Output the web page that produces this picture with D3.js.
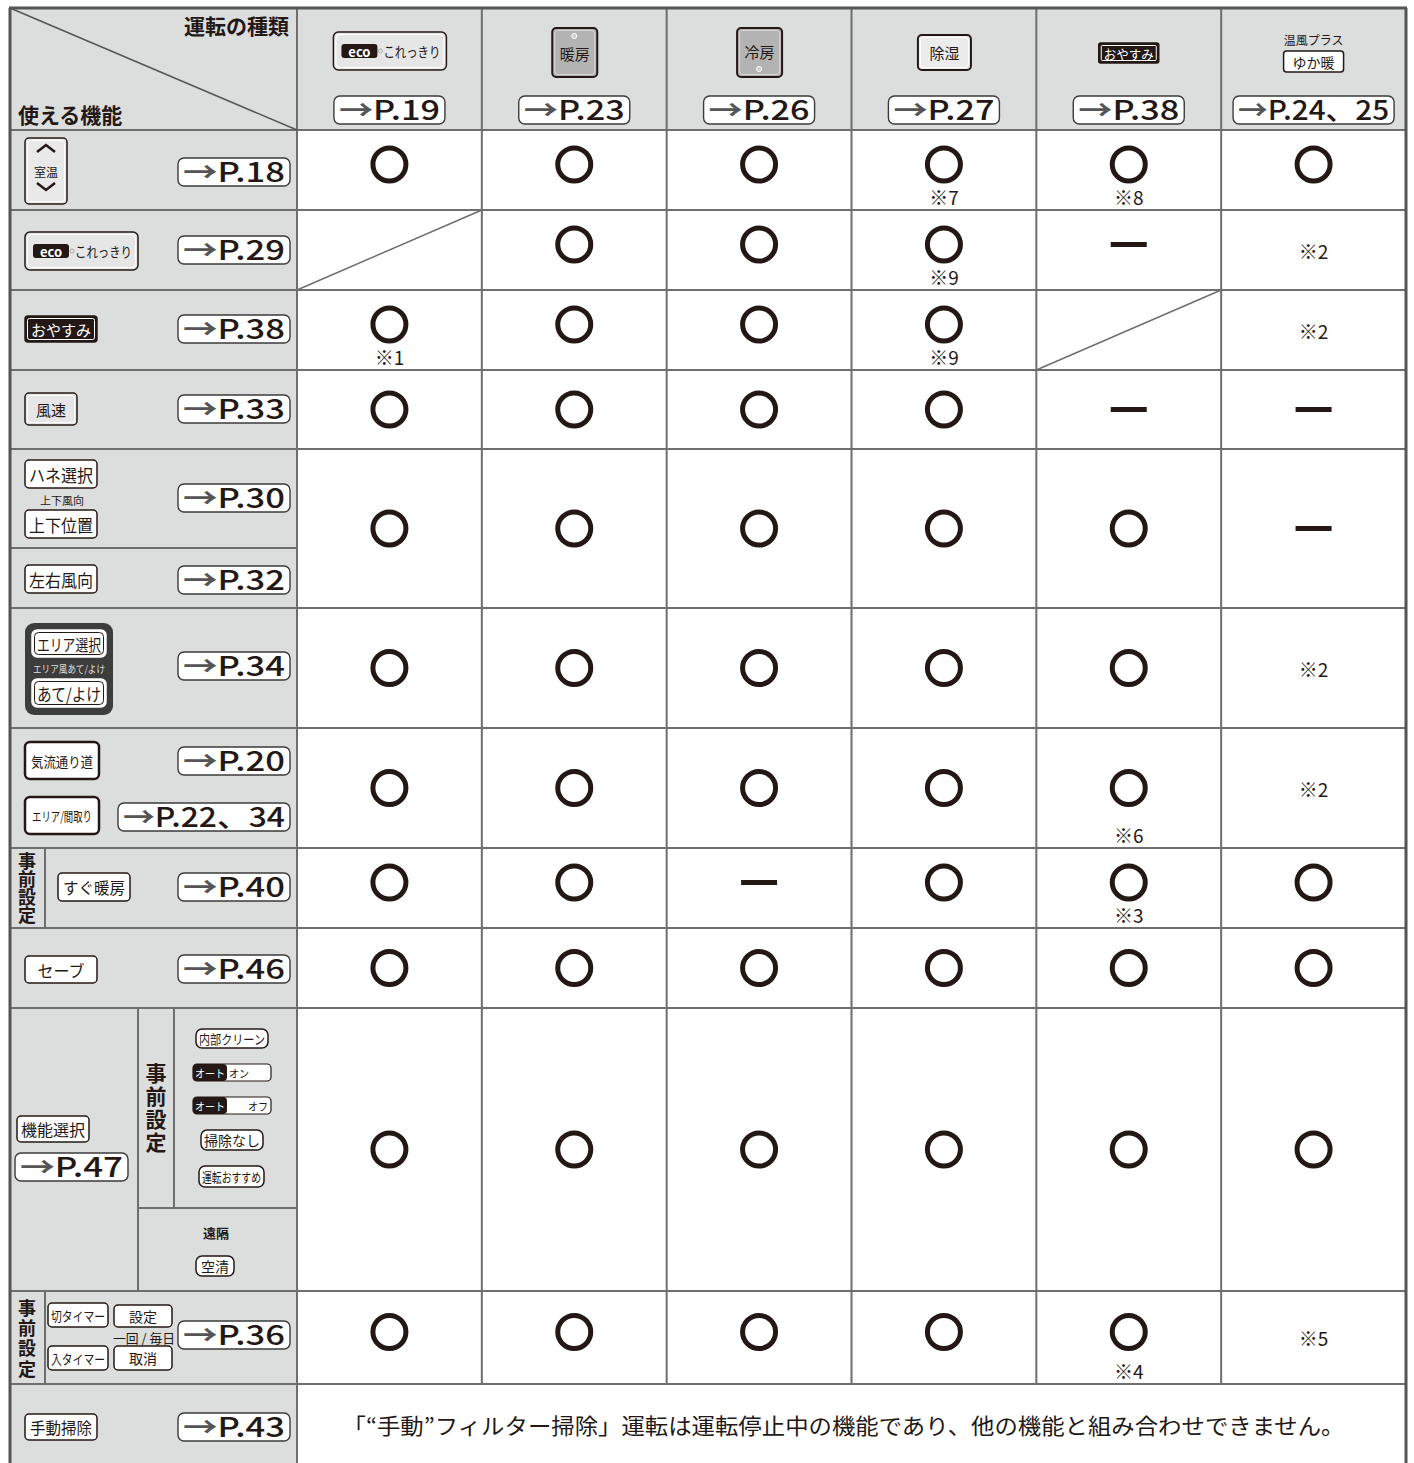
<!DOCTYPE html>
<html><head><meta charset="utf-8">
<script src="https://cdn.jsdelivr.net/npm/d3@7"></script>
<style>body{margin:0;background:#fff}svg{display:block}text{font-family:"Noto Sans CJK JP","Noto Sans",sans-serif}</style>
</head><body><svg id="c" width="1414" height="1463"></svg>
<script>
// ---------- data ----------
const modes = ["これっきり","暖房","冷房","除湿","おやすみ","ゆか暖"];
const modePages = ["P.19","P.23","P.26","P.27","P.38","P.24、25"];
const features = ["室温","これっきり","おやすみ","風速","風向","エリア風あて/よけ","気流通り道","すぐ暖房","セーブ","機能選択","タイマー","手動掃除"];
const marks = [
  ["o","o","o","o","o","o"],
  ["/","o","o","o","-","※2"],
  ["o","o","o","o","/","※2"],
  ["o","o","o","o","-","-"],
  ["o","o","o","o","o","-"],
  ["o","o","o","o","o","※2"],
  ["o","o","o","o","o","※2"],
  ["o","o","-","o","o","o"],
  ["o","o","o","o","o","o"],
  ["o","o","o","o","o","o"],
  ["o","o","o","o","o","※5"]
];
const notes = [
  ["","","","※7","※8",""],
  ["","","","※9","",""],
  ["※1","","","※9","",""],
  ["","","","","",""],
  ["","","","","",""],
  ["","","","","",""],
  ["","","","","※6",""],
  ["","","","","※3",""],
  ["","","","","",""],
  ["","","","","",""],
  ["","","","","※4",""]
];
const footerText = "「“手動”フィルター掃除」運転は運転停止中の機能であり、他の機能と組み合わせできません。";
const headerTitles = ["運転の種類","使える機能"];

// ---------- layout ----------
const svg = d3.select("#c");
const INK="#231815", LINE="#6e6e6e", BG="#dcdddd";
const L=10, R=1406, T=8, LC=297, B=1463;
const rowEdges=[130,210,290,370,449,608,728,848,928,1008,1291,1384,1463];
const x = d3.scaleBand().domain(d3.range(modes.length)).range([LC,R]);
const bw = x.bandwidth();
const cx = j => x(j)+bw/2;

svg.append("rect").attr("x",L).attr("y",T).attr("width",R-L).attr("height",B-T).attr("fill",BG);
svg.append("rect").attr("x",LC).attr("y",rowEdges[0]).attr("width",R-LC).attr("height",B-rowEdges[0]).attr("fill","#fff");

function line(x1,y1,x2,y2,c=LINE,w=2){svg.append("line").attr("x1",x1).attr("y1",y1).attr("x2",x2).attr("y2",y2).attr("stroke",c).attr("stroke-width",w);}
rowEdges.slice(0,-1).forEach(e=>line(L,e,R,e));
d3.range(1,modes.length).forEach(j=>line(x(j),T,x(j),rowEdges[11]));
line(LC,T,LC,B);
line(L,548,LC,548);
line(45,848,45,928); line(45,1291,45,1384);
line(138,1008,138,1291); line(174,1008,174,1208); line(138,1208,LC,1208);
line(L,T,LC,rowEdges[0],"#555",1.5);
line(L-1,T,R+1,T,"#555",3);
line(L,T,L,B,"#555",3);
line(R,T,R,B,"#555",3);

// ---------- helpers ----------
function txt(xp,yp,s,o={}){
  const t=svg.append("text").attr("x",xp).attr("y",yp).attr("text-anchor",o.anchor||"middle")
   .attr("dominant-baseline","central").attr("font-size",o.fs||15).attr("font-weight",o.fw||400)
   .attr("fill",o.color||INK).text(s);
  if(o.maxW && t.node().getComputedTextLength()>o.maxW)
    t.attr("textLength",o.maxW).attr("lengthAdjust","spacingAndGlyphs");
  return t;
}
function btn(x0,y0,w,h,label,o={}){
  const rx=o.rx??4;
  svg.append("rect").attr("x",x0).attr("y",y0).attr("width",w).attr("height",h).attr("rx",rx)
   .attr("fill",o.fill||"#fff").attr("stroke",o.stroke||INK).attr("stroke-width",o.sw||1.5);
  if(o.inner) svg.append("rect").attr("x",x0+2.5).attr("y",y0+2.5).attr("width",w-5).attr("height",h-5).attr("rx",Math.max(rx-1,1))
   .attr("fill","none").attr("stroke",o.inner).attr("stroke-width",1);
  if(label) txt(x0+w/2+(o.dx||0),y0+h/2+(o.dy||0),label,{fs:o.fs||15,color:o.color,fw:o.fw,maxW:w-(o.pad||8)});
}
function pageBox(x0,yc,w,label){
  svg.append("rect").attr("x",x0).attr("y",yc-14).attr("width",w).attr("height",28).attr("rx",6)
   .attr("fill","#fff").attr("stroke","#3b3b3b").attr("stroke-width",1.4);
  const t=svg.append("text").attr("x",x0+w/2).attr("y",yc+10).attr("text-anchor","middle")
   .attr("font-size",27).attr("font-weight",500)
   .attr("textLength",w-10).attr("lengthAdjust","spacingAndGlyphs");
  t.append("tspan").attr("fill","#555").attr("font-weight",700).text("→");
  t.append("tspan").attr("fill",INK).text(label);
}
function ecoLogo(x0,yc){
  svg.append("rect").attr("x",x0).attr("y",yc-7).attr("width",36).attr("height",14).attr("rx",3).attr("fill",INK);
  svg.append("text").attr("x",x0+18).attr("y",yc+0.5).attr("text-anchor","middle").attr("dominant-baseline","central")
   .attr("font-size",13).attr("font-weight",700).attr("fill","#fff").attr("font-family","DejaVu Sans").text("eco");
}
function ecoBtn(x0,y0,label){
  btn(x0,y0,113,38,null,{fill:"#e6e6e6",inner:"#fff",rx:5});
  ecoLogo(x0+8,y0+19);
  svg.append("circle").attr("cx",x0+47).attr("cy",y0+19).attr("r",2).attr("fill","none").attr("stroke","#aaa");
  txt(x0+50,y0+19,label,{fs:14,anchor:"start",maxW:57});
}
// vertical text as a single text element
function vtext(xc,y0,span,s,fs,fw){
  svg.append("text").attr("x",xc).attr("y",y0).attr("writing-mode","vertical-rl")
   .attr("font-size",fs).attr("font-weight",fw).attr("fill",INK)
   .attr("textLength",span).attr("lengthAdjust","spacing").text(s);
}
function toggle(x0,y0,label,right){
  svg.append("rect").attr("x",x0).attr("y",y0).attr("width",78).attr("height",17).attr("rx",4).attr("fill","#fff").attr("stroke",INK).attr("stroke-width",1.2);
  svg.append("rect").attr("x",x0).attr("y",y0).attr("width",34).attr("height",17).attr("rx",4).attr("fill",INK);
  txt(x0+17,y0+8.5,"オート",{fs:11,color:"#fff",maxW:30});
  txt(right?x0+75:x0+36,y0+8.5,label,{fs:11,anchor:right?"end":"start",maxW:20});
}

// ---------- header ----------
txt(289,25,headerTitles[0],{fs:21,fw:700,anchor:"end"});
txt(18,114,headerTitles[1],{fs:21,fw:700,anchor:"start"});
ecoBtn(cx(0)-56,32,modes[0]);
btn(cx(1)-22,28,45,49,modes[1],{fill:"#b3b3b3",inner:"#d6d6d6",sw:2,fs:15,dy:1,pad:10});
svg.append("circle").attr("cx",cx(1)).attr("cy",36).attr("r",2.5).attr("fill","#ccc").attr("stroke","#fff");
btn(cx(2)-22,28,45,49,modes[2],{fill:"#b3b3b3",inner:"#d6d6d6",sw:2,fs:15,dy:-1,pad:10});
svg.append("circle").attr("cx",cx(2)).attr("cy",69).attr("r",2.5).attr("fill","#ccc").attr("stroke","#fff");
btn(cx(3)-26,35,53,35,modes[3],{fill:"#ececec",inner:"#fff",sw:2,fs:15});
btn(cx(4)-30,43,60,20,modes[4],{fill:INK,inner:"#fff",color:"#fff",fs:13,rx:2,pad:10});
txt(cx(5),39,"温風プラス",{fs:12,maxW:60});
btn(cx(5)-30,51,60,21,modes[5],{fs:14,rx:3});
modePages.forEach((p,j)=>{const w=p.length>4?161:111; pageBox(cx(j)-w/2,110,w,p);});

// ---------- left column ----------
btn(25,138,42,66,null,{fill:"#e9e9e9",inner:"#fff",rx:4});
svg.append("path").attr("d","M37 152 L46 145 L55 152").attr("fill","none").attr("stroke",INK).attr("stroke-width",2.5);
svg.append("path").attr("d","M37 183 L46 190 L55 183").attr("fill","none").attr("stroke",INK).attr("stroke-width",2.5);
txt(46,171,features[0],{fs:12});
pageBox(178,172,112,"P.18");
ecoBtn(25,232,features[1]);
pageBox(178,250,112,"P.29");
btn(25,316,72,26,features[2],{fill:INK,inner:"#fff",color:"#fff",fs:15,rx:3,pad:12});
pageBox(178,329,112,"P.38");
btn(25,393,52,32,features[3],{fill:"#e6e6e6",inner:"#fff",fs:15,rx:4});
pageBox(178,409,112,"P.33");
btn(25,460,72,28,"ハネ選択",{fs:17,rx:4});
txt(62,500,"上下風向",{fs:11});
btn(25,510,72,28,"上下位置",{fs:17,rx:4});
pageBox(178,498,112,"P.30");
btn(25,565,72,28,"左右風向",{fs:17,rx:4});
pageBox(178,580,112,"P.32");
svg.append("rect").attr("x",25).attr("y",623).attr("width",88).attr("height",92).attr("rx",9).attr("fill","#3d3d3d");
btn(32,630,74,27,"エリア選択",{fs:16,rx:5,stroke:"#fff",inner:INK,pad:10});
txt(69,668,features[5],{fs:10,color:"#ddd",maxW:72});
btn(32,679,74,28,"あて/よけ",{fs:17,rx:5,stroke:"#fff",inner:INK,pad:10});
pageBox(178,666,112,"P.34");
btn(25,742,74,37,features[6],{fs:14,rx:5,sw:2.5,pad:12});
btn(25,797,74,37,"エリア/間取り",{fs:13,rx:5,sw:2.5,pad:14});
pageBox(178,761,112,"P.20");
pageBox(118,817,172,"P.22、34");
vtext(27,852,72,"事前設定",18,700);
btn(58,873,72,28,features[7],{fs:16,rx:4,pad:10});
pageBox(178,887,112,"P.40");
btn(25,956,72,27,features[8],{fs:16,rx:4,pad:20});
pageBox(178,969,112,"P.46");
btn(17,1116,72,26,features[9],{fs:16,rx:4});
pageBox(15,1167,113,"P.47");
vtext(156,1063,90,"事前設定",21,700);
btn(196,1029,72,19,"内部クリーン",{fs:13,rx:6,pad:6});
toggle(193,1064,"オン",false);
toggle(193,1097,"オフ",true);
btn(201,1130,62,20,"掃除なし",{fs:14,rx:6,pad:6});
btn(199,1166,65,21,"運転おすすめ",{fs:13,rx:6,pad:6});
txt(216,1232,"遠隔",{fs:13,fw:700});
btn(196,1256,38,20,"空清",{fs:14,rx:6,pad:6});
vtext(27,1299,79,"事前設定",18,700);
btn(48,1303,60,24,"切タイマー",{fs:13,rx:4,pad:6});
btn(114,1305,58,22,"設定",{fs:14,rx:4});
txt(175,1337,"一回 / 毎日",{fs:13,anchor:"end",maxW:62});
btn(48,1346,60,24,"入タイマー",{fs:13,rx:4,pad:6});
btn(114,1346,58,24,"取消",{fs:14,rx:4});
pageBox(178,1335,112,"P.36");
btn(25,1414,72,26,features[11],{fs:16,rx:4,pad:10});
pageBox(178,1427,112,"P.43");

// ---------- marks ----------
marks.forEach((row,i)=>{
  const top=rowEdges[i], bot=rowEdges[i+1], mid=(top+bot)/2;
  const hasNote=notes[i].some(n=>n);
  const my=mid-(hasNote && bot-top<100 ? 5.5 : 0);
  row.forEach((m,j)=>{
    const X=cx(j);
    if(m==="o"){
      svg.append("circle").attr("cx",X).attr("cy",my).attr("r",16.5).attr("fill","none").attr("stroke",INK).attr("stroke-width",5);
    } else if(m==="-"){
      svg.append("rect").attr("x",X-18).attr("y",my-2.5).attr("width",36).attr("height",5).attr("fill",INK);
    } else if(m==="/"){
      line(x(j),bot,x(j)+bw,top,LINE,1.5);
    } else {
      txt(X,mid,m,{fs:19});
    }
    if(notes[i][j]) txt(X,bot-14,notes[i][j],{fs:19});
  });
});

svg.append("text").attr("x",(LC+R)/2-8).attr("y",(rowEdges[11]+B)/2).attr("text-anchor","middle")
  .attr("dominant-baseline","central").attr("font-size",22).attr("fill",INK)
  .attr("textLength",1002).attr("lengthAdjust","spacingAndGlyphs").text(footerText);
</script></body></html>
